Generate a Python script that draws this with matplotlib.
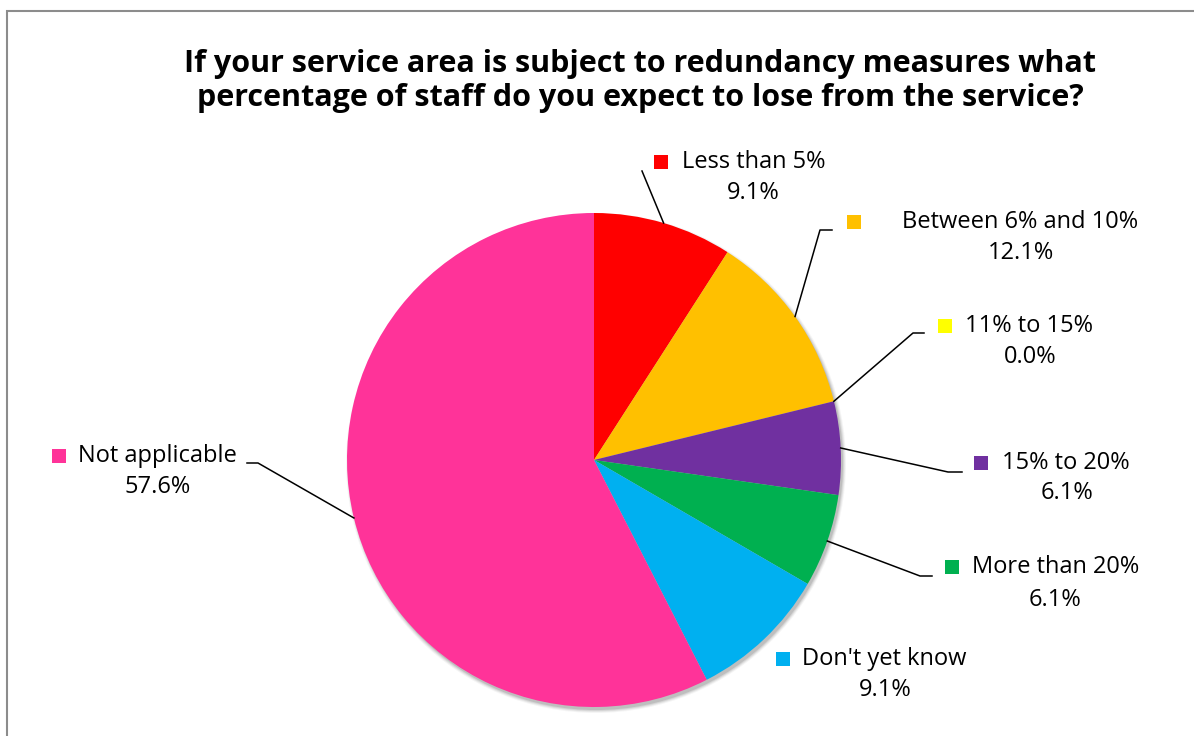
import matplotlib.pyplot as plt
from matplotlib.patches import Circle, Rectangle
import numpy as np

plt.rcParams['font.family'] = ['Open Sans', 'DejaVu Sans']

title = ("If your service area is subject to redundancy measures what\n"
         "percentage of staff do you expect to lose from the service?")

categories = ['Less than 5%', 'Between 6% and 10%', '11% to 15%', '15% to 20%',
              'More than 20%', "Don't yet know", 'Not applicable']
shares = [9.1, 12.1, 0.0, 6.1, 6.1, 9.1, 57.6]
colors = ['#FF0000', '#FFC000', '#FFFF00', '#7030A0', '#00B050', '#00B0F0', '#FF3399']

# label layout in pixels: marker x, text x, first line y, percent x, percent y
label_pos = [
    (654, 682, 162, 753, 193),
    (847, 902, 222, 1021, 253),
    (938, 965, 326, 1030, 357),
    (974, 1002, 463, 1067, 493),
    (945, 972, 567, 1055, 600),
    (776, 802, 659, 885, 690),
    (52, 78, 456, 158, 487),
]
# leader line bends (after the point on the pie edge)
leaders = [
    [(642, 171)],
    [(820, 230), (832, 230)],
    [(913, 333), (924, 333)],
    [(948, 472), (962, 472)],
    [(920, 576), (932, 576)],
    [],
    [(258, 463), (247, 463)],
]

W, H = 1194, 736
cx, cy, r = 594, 460, 247

fig = plt.figure(figsize=(W / 100, H / 100), dpi=100)
ax = fig.add_axes([0, 0, 1, 1])

# soft shadow under the pie
for i, a in enumerate([0.10, 0.08, 0.06, 0.04]):
    ax.add_patch(Circle((cx + 2, cy + 3), r + i, color='black', alpha=a,
                        lw=0, zorder=0))

# y axis is flipped, so counterclock here runs clockwise on screen
wedges, _ = ax.pie(shares, colors=colors, startangle=-90, counterclock=True,
                   center=(cx, cy), radius=r,
                   wedgeprops=dict(linewidth=0, zorder=1))

ax.set_xlim(0, W)
ax.set_ylim(H, 0)
ax.axis('off')

for w, name, v, pos, bends in zip(wedges, categories, shares, label_pos, leaders):
    mid = np.deg2rad((w.theta1 + w.theta2) / 2)
    px, py = cx + r * np.cos(mid), cy + r * np.sin(mid)
    if bends:
        xs = [px] + [b[0] for b in bends]
        ys = [py] + [b[1] for b in bends]
        ax.plot(xs, ys, color='black', lw=1.1, zorder=3)
    mx, tx, ty, pctx, pcty = pos
    ax.add_patch(Rectangle((mx, ty - 7), 14, 14, color=w.get_facecolor(),
                           lw=0, zorder=3))
    ax.text(tx, ty, name, ha='left', va='center', fontsize=17, color='black')
    ax.text(pctx, pcty, f"{v:.1f}%", ha='center', va='center', fontsize=17,
            color='black')

ax.text(640, 81, title, ha='center', va='center', fontsize=22,
        fontweight='bold', linespacing=1.2)

# chart area border
ax.plot([7, 7, W + 5], [H + 5, 11, 11], color='#8c8c8c', lw=1.5,
        solid_joinstyle='miter', clip_on=False)

fig.savefig('out.png', dpi=100)
